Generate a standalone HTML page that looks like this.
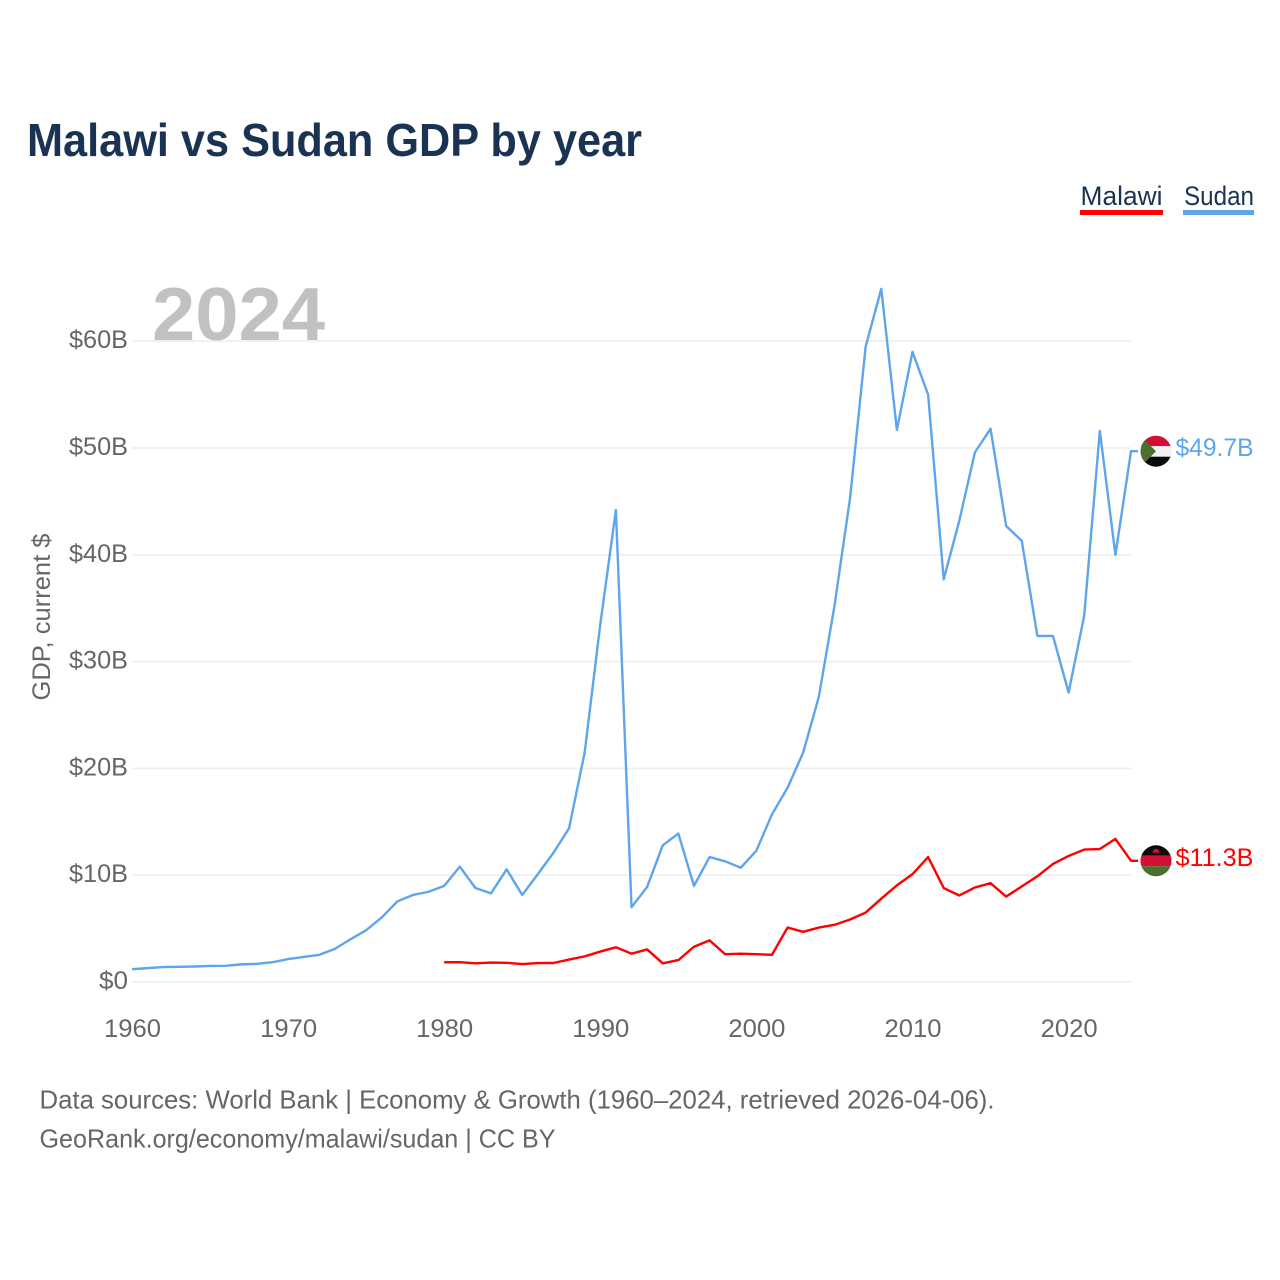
<!DOCTYPE html>
<html lang="en">
<head>
<meta charset="utf-8">
<title>Malawi vs Sudan GDP by year</title>
<style>
html,body{margin:0;padding:0;background:#fff;}
svg{display:block;font-family:"Liberation Sans",sans-serif;}
</style>
</head>
<body>
<svg id="chart" xmlns="http://www.w3.org/2000/svg" width="1280" height="1280" viewBox="0 0 1280 1280">
  <defs>
    <clipPath id="clip-sudan"><circle cx="0" cy="0" r="15.5"/></clipPath>
    <clipPath id="clip-malawi"><circle cx="0" cy="0" r="15.5"/></clipPath>
  </defs>
  <rect x="0" y="0" width="1280" height="1280" fill="#ffffff"/>
  <text x="27" y="156" font-size="46" font-weight="700" fill="#1a3353" textLength="615" lengthAdjust="spacingAndGlyphs">Malawi vs Sudan GDP by year</text>

  <g>
    <g>
      <text x="1080.5" y="205" font-size="27" fill="#1a3353" textLength="82" lengthAdjust="spacingAndGlyphs">Malawi</text>
      <rect x="1080" y="210" width="83" height="5" fill="#ff0000"/>
    </g>
    <g>
      <text x="1184" y="205" font-size="27" fill="#1a3353" textLength="70" lengthAdjust="spacingAndGlyphs">Sudan</text>
      <rect x="1183" y="210" width="71" height="5" fill="#5da5ec"/>
    </g>
  </g>

  <text x="152" y="340" font-size="75" font-weight="700" fill="#c1c1c1" textLength="173" lengthAdjust="spacingAndGlyphs">2024</text>
  <g id="grid"></g>
  <g id="yticks"></g>
  <g id="xticks"></g>
  <text transform="translate(50 617) rotate(-90)" text-anchor="middle" font-size="25" fill="#666666" textLength="167" lengthAdjust="spacingAndGlyphs">GDP, current $</text>

  <g id="series"></g>

  <g id="flag-sudan">
    <g clip-path="url(#clip-sudan)">
      <rect x="-16" y="-16" width="32" height="11" fill="#d21034"/>
      <rect x="-16" y="-5" width="32" height="10.5" fill="#f2f2f2"/>
      <rect x="-16" y="5.5" width="32" height="11" fill="#0a0a0a"/>
      <polygon points="-16,-16 0,0 -16,16" fill="#4b6f2e"/>
    </g>
  </g>
  <g id="flag-malawi">
    <g clip-path="url(#clip-malawi)">
      <rect x="-16" y="-16" width="32" height="11" fill="#0a0a0a"/>
      <rect x="-16" y="-5" width="32" height="10.5" fill="#d21034"/>
      <rect x="-16" y="5.5" width="32" height="11" fill="#4b6f2e"/>
      <path d="M-3.5,-8 A3.5,4 0 0 1 3.5,-8 Z" fill="#d21034"/>
    </g>
  </g>
  <text id="label-sudan" x="1175.5" font-size="25" fill="#5da5ec" textLength="78" lengthAdjust="spacingAndGlyphs"></text>
  <text id="label-malawi" x="1175.5" font-size="25" fill="#ff0000" textLength="78" lengthAdjust="spacingAndGlyphs"></text>

  <g>
    <text x="39.5" y="1108.5" font-size="26" fill="#666666" textLength="955" lengthAdjust="spacingAndGlyphs">Data sources: World Bank | Economy &amp; Growth (1960–2024, retrieved 2026-04-06).</text>
    <text x="39.5" y="1147.5" font-size="26" fill="#666666" textLength="516" lengthAdjust="spacingAndGlyphs">GeoRank.org/economy/malawi/sudan | CC BY</text>
  </g>
</svg>
<script>
const yTickValues = [0, 10, 20, 30, 40, 50, 60];
const xTickYears = [1960, 1970, 1980, 1990, 2000, 2010, 2020];
const sudanStartYear = 1960;
const sudanGdp = [1.2,1.3,1.4,1.42,1.45,1.5,1.52,1.65,1.7,1.85,2.15,2.35,2.55,3.1,4.0,4.85,6.05,7.55,8.15,8.45,9.0,10.8,8.8,8.3,10.55,8.15,10.1,12.1,14.4,21.5,33.5,44.2,7.0,8.9,12.8,13.9,9.0,11.7,11.3,10.7,12.3,15.7,18.2,21.5,26.7,35.2,45.3,59.5,64.9,51.7,59.0,55.0,37.7,43.2,49.6,51.8,42.7,41.3,32.4,32.4,27.1,34.3,51.6,40.0,49.7];
const malawiStartYear = 1980;
const malawiGdp = [1.85,1.85,1.75,1.82,1.8,1.68,1.77,1.78,2.1,2.4,2.85,3.25,2.65,3.05,1.75,2.05,3.3,3.9,2.6,2.65,2.6,2.55,5.1,4.7,5.1,5.35,5.85,6.5,7.8,9.05,10.1,11.7,8.8,8.1,8.85,9.25,8.0,8.95,9.9,11.05,11.8,12.4,12.45,13.4,11.35];

const NS = 'http://www.w3.org/2000/svg';
const xScale = function (year) { return 132 + (year - 1960) * 15.61; };
const yScale = function (value) { return 982 - value * 10.68; };
const formatB = function (value) { return value === 0 ? '$0' : '$' + value + 'B'; };

const grid = document.getElementById('grid');
const yticks = document.getElementById('yticks');
yTickValues.forEach(function (v) {
  const line = document.createElementNS(NS, 'line');
  
  
  line.setAttribute('x1', xScale(1960));
  line.setAttribute('x2', xScale(2024));
  line.setAttribute('y1', yScale(v));
  line.setAttribute('y2', yScale(v));
  line.setAttribute('stroke', '#eeeeee');
  line.setAttribute('stroke-width', '1.6');
  grid.appendChild(line);

  const t = document.createElementNS(NS, 'text');
  
  
  t.setAttribute('x', 128);
  t.setAttribute('y', yScale(v) + 7);
  t.setAttribute('text-anchor', 'end');
  t.setAttribute('font-size', '25');
  t.setAttribute('fill', '#666666');
  t.setAttribute('textLength', v === 0 ? '29' : '59');
  t.setAttribute('lengthAdjust', 'spacingAndGlyphs');
  t.textContent = formatB(v);
  yticks.appendChild(t);
});

const xticks = document.getElementById('xticks');
xTickYears.forEach(function (yr) {
  const t = document.createElementNS(NS, 'text');
  
  
  t.setAttribute('x', xScale(yr) + 0.5);
  t.setAttribute('y', 1037);
  t.setAttribute('text-anchor', 'middle');
  t.setAttribute('font-size', '25');
  t.setAttribute('fill', '#666666');
  t.setAttribute('textLength', '57');
  t.setAttribute('lengthAdjust', 'spacingAndGlyphs');
  t.textContent = String(yr);
  xticks.appendChild(t);
});

const series = document.getElementById('series');
function drawSeries(values, startYear, color, name) {
  const pts = values.map(function (v, i) { return xScale(startYear + i).toFixed(2) + ',' + yScale(v).toFixed(2); });
  const lastY = yScale(values[values.length - 1]).toFixed(2);
  pts.push('1138,' + lastY);
  const line = document.createElementNS(NS, 'polyline');
  
  
  line.setAttribute('points', pts.join(' '));
  line.setAttribute('fill', 'none');
  line.setAttribute('stroke', color);
  line.setAttribute('stroke-width', '2.4');
  line.setAttribute('stroke-linejoin', 'round');
  series.appendChild(line);
}
drawSeries(sudanGdp, sudanStartYear, '#5da5ec', 'sudan-line');
drawSeries(malawiGdp, malawiStartYear, '#ff0000', 'malawi-line');

function placeEnd(values, flagId, labelId) {
  const last = values[values.length - 1];
  const y = yScale(last);
  document.getElementById(flagId).setAttribute('transform', 'translate(1156 ' + y.toFixed(2) + ')');
  const label = document.getElementById(labelId);
  label.setAttribute('y', (y + 5).toFixed(2));
  label.textContent = '$' + last.toFixed(1) + 'B';
}
placeEnd(sudanGdp, 'flag-sudan', 'label-sudan');
placeEnd(malawiGdp, 'flag-malawi', 'label-malawi');
</script>
</body>
</html>
